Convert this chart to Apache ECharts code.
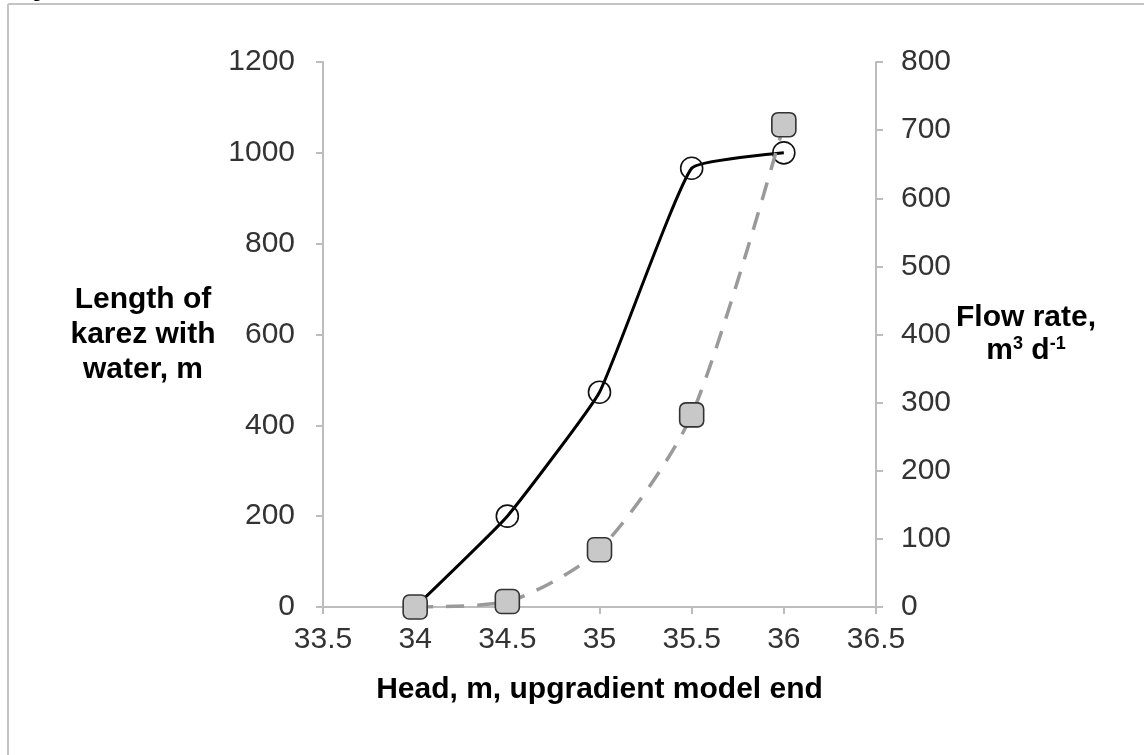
<!DOCTYPE html>
<html>
<head>
<meta charset="utf-8">
<script src="https://cdn.jsdelivr.net/npm/echarts@6/dist/echarts.min.js"></script>
<style>
html,body{margin:0;padding:0;background:#fff;}
#chart{width:1144px;height:755px;}
</style>
</head>
<body>
<div id="chart"></div>
<script>
const heads = [34, 34.5, 35, 35.5, 36];
const lengths = [0, 200, 473, 966, 1000];
const flows = [0, 8, 84, 282, 708];
const xName = 'Head, m, upgradient model end';
const leftName = 'Length of\nkarez with\nwater, m';
const rightName = 'Flow rate,\nm{sup|3} d{sup|-1}';

const font = 'Liberation Sans, Arial, sans-serif';
const axisGray = '#bdbdbd';
const plain = v => String(v);

const chart = echarts.init(document.getElementById('chart'), null, {renderer: 'canvas'});
chart.setOption({
  backgroundColor: '#fff',
  animation: false,
  graphic: [
    {type: 'text', left: 17, top: -15, z: 1, style: {text: 'Figure', fontFamily: font, fontSize: 17, fontWeight: 'bold', fill: '#000'}},
    {type: 'line', z: 2, shape: {x1: 8, y1: 4, x2: 1144, y2: 4}, style: {stroke: '#c4c4c4', lineWidth: 2}},
    {type: 'line', z: 2, shape: {x1: 8, y1: 4, x2: 8, y2: 755}, style: {stroke: '#c4c4c4', lineWidth: 2}}
  ],
  grid: {left: 323, right: 268, top: 62, bottom: 148, containLabel: false},
  xAxis: {
    type: 'value', min: 33.5, max: 36.5, interval: 0.5,
    name: xName, nameLocation: 'middle', nameGap: 68,
    nameTextStyle: {fontFamily: font, fontSize: 30, fontWeight: 'bold', color: '#000'},
    axisLine: {show: true, lineStyle: {color: axisGray, width: 2}},
    axisTick: {show: true, length: 7, lineStyle: {color: axisGray, width: 2}},
    axisLabel: {margin: 18, fontFamily: font, fontSize: 30, color: '#333', formatter: plain},
    splitLine: {show: false}
  },
  yAxis: [
    {
      type: 'value', min: 0, max: 1200, interval: 200, position: 'left',
      name: leftName, nameLocation: 'middle', nameRotate: 0, nameGap: 180,
      nameTextStyle: {fontFamily: font, fontSize: 30, fontWeight: 'bold', color: '#000', align: 'center', lineHeight: 35},
      axisLine: {show: true, lineStyle: {color: axisGray, width: 2}},
      axisTick: {show: true, length: 7, lineStyle: {color: axisGray, width: 2}},
      axisLabel: {margin: 28, fontFamily: font, fontSize: 30, color: '#333', formatter: plain},
      splitLine: {show: false}
    },
    {
      type: 'value', min: 0, max: 800, interval: 100, position: 'right',
      name: rightName, nameLocation: 'middle', nameRotate: 0, nameGap: 150,
      nameTextStyle: {
        fontFamily: font, fontSize: 30, fontWeight: 'bold', color: '#000', align: 'center', lineHeight: 33,
        rich: {sup: {fontFamily: font, fontSize: 18, fontWeight: 'bold', color: '#000', padding: [0, 0, 14, 0]}}
      },
      axisLine: {show: true, lineStyle: {color: axisGray, width: 2}},
      axisTick: {show: true, length: 7, lineStyle: {color: axisGray, width: 2}},
      axisLabel: {margin: 25, fontFamily: font, fontSize: 30, color: '#333', formatter: plain},
      splitLine: {show: false}
    }
  ],
  series: [
    {
      name: 'Length', type: 'line', yAxisIndex: 0,
      data: heads.map((h, i) => [h, lengths[i]]),
      smooth: 0.12,
      symbol: 'circle', symbolSize: 22,
      lineStyle: {color: '#000', width: 3},
      itemStyle: {color: 'rgba(255,255,255,0)', borderColor: '#111', borderWidth: 1.6},
      z: 2
    },
    {
      name: 'Flow', type: 'line', yAxisIndex: 1,
      data: heads.map((h, i) => [h, flows[i]]),
      smooth: 0.25,
      symbol: 'roundRect', symbolSize: 24,
      lineStyle: {color: '#9a9a9a', width: 3.5, type: [18, 13]},
      itemStyle: {color: '#c8c8c8', borderColor: '#333', borderWidth: 1.6},
      z: 3
    }
  ]
});
</script>
</body>
</html>
